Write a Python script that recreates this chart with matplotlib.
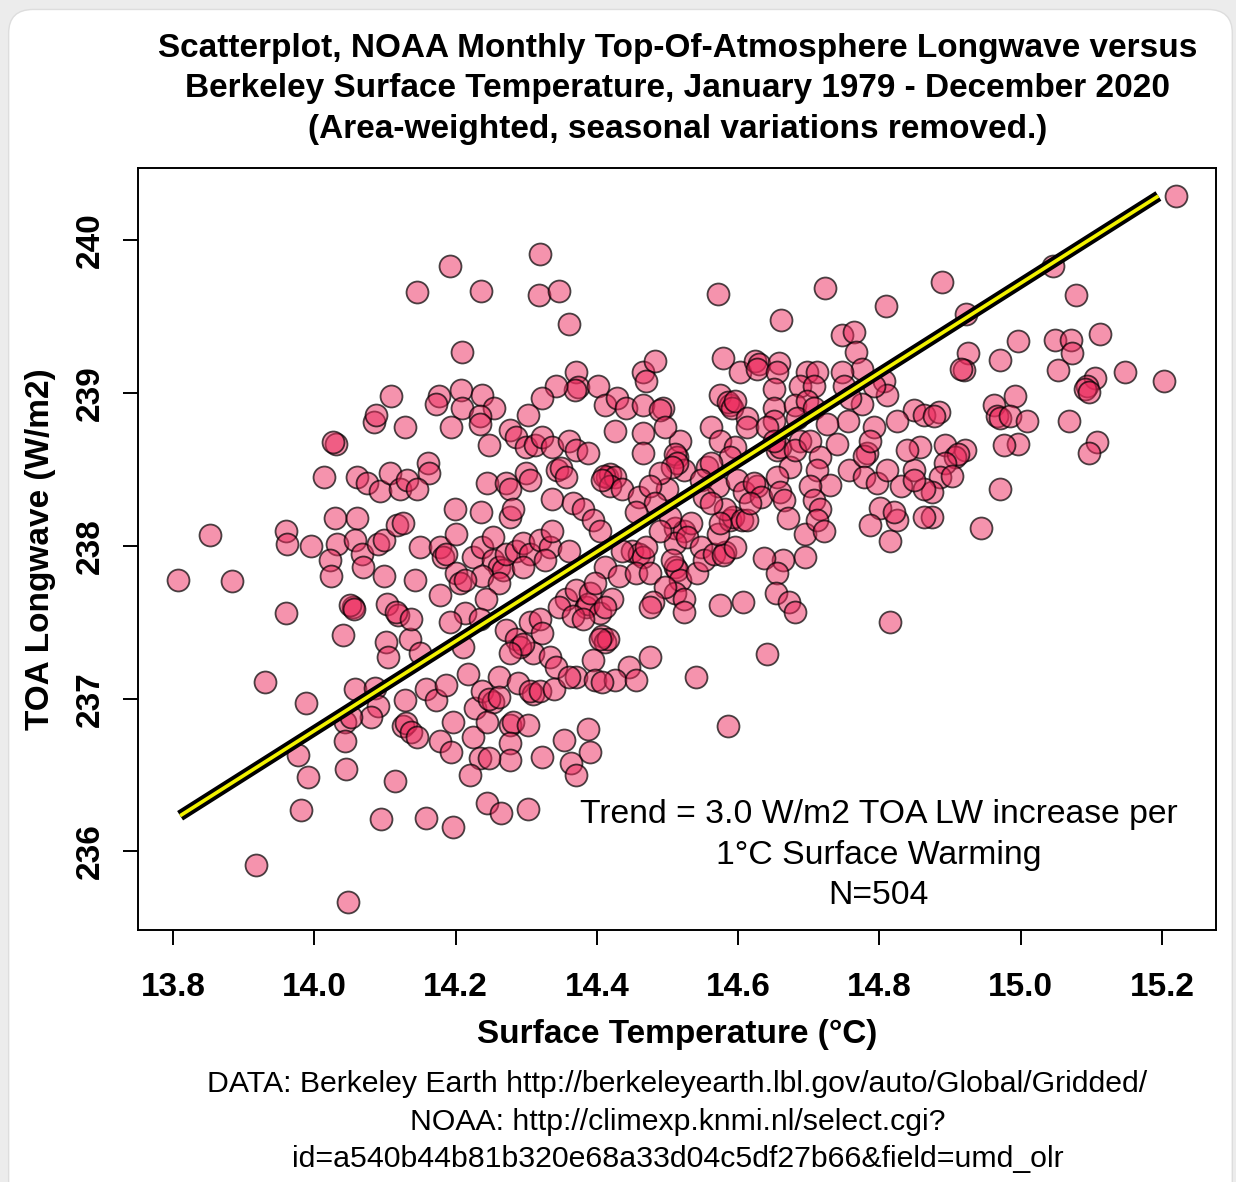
import numpy as np
import matplotlib
matplotlib.use('Agg')
import matplotlib.pyplot as plt
from matplotlib.patches import FancyBboxPatch

plt.rcParams['font.family'] = ['Liberation Sans', 'DejaVu Sans']

# monthly anomalies: (surface temp degC, TOA longwave W/m2)
obs = [
    # far left
    (13.807, 237.78), (13.852, 238.07), (13.883, 237.77), (13.960, 237.56), (13.930, 237.11),
    (13.917, 235.91), (13.960, 238.10), (13.961, 238.01), (13.995, 238.00), (14.014, 238.45),
    (14.031, 238.67), (14.026, 238.68), (14.029, 238.18), (14.060, 238.18), (14.032, 238.01),
    (14.022, 237.91), (14.023, 237.80), (14.057, 238.04), (14.067, 237.95), (14.069, 237.86),
    (14.098, 237.80), (14.090, 238.01), (14.098, 238.04), (14.117, 238.14), (14.060, 238.45),
    (14.074, 238.41), (14.093, 238.36), (14.107, 238.48), (14.121, 238.37), (14.131, 238.43),
    (14.055, 237.60), (14.050, 237.61), (14.056, 237.59), (14.040, 237.42), (14.103, 237.62),
    (14.118, 237.55), (14.115, 237.57), (14.101, 237.37), (14.104, 237.27), (14.135, 237.39),
    (14.084, 238.81), (14.128, 238.78), (14.142, 237.78), (14.108, 238.98), (14.087, 238.86),
    # upper 14.15 - 14.5
    (14.192, 239.83), (14.145, 239.66), (14.236, 239.67), (14.320, 239.91), (14.318, 239.64),
    (14.346, 239.67), (14.361, 239.45), (14.209, 239.27), (14.370, 239.14), (14.373, 239.04),
    (14.369, 239.02), (14.342, 239.05), (14.322, 238.97), (14.302, 238.86), (14.401, 239.05),
    (14.412, 238.92), (14.429, 238.97), (14.441, 238.90), (14.466, 238.92), (14.465, 239.14),
    (14.483, 239.21), (14.469, 239.08), (14.493, 238.90), (14.489, 238.89), (14.207, 239.02),
    (14.176, 238.98), (14.172, 238.93), (14.238, 238.99), (14.209, 238.90), (14.254, 238.90),
    (14.234, 238.85),
    # upper 14.55 - 14.9
    (14.571, 239.65), (14.661, 239.48), (14.723, 239.69), (14.810, 239.57), (14.889, 239.73),
    (14.747, 239.38), (14.764, 239.40), (14.767, 239.27), (14.776, 239.16), (14.747, 239.14),
    (14.750, 239.05), (14.807, 239.08), (14.811, 238.99), (14.793, 239.05), (14.776, 238.93),
    (14.759, 238.97), (14.755, 238.82), (14.579, 239.23), (14.602, 239.14), (14.624, 239.21),
    (14.630, 239.19), (14.627, 239.16), (14.658, 239.20), (14.655, 239.14), (14.651, 239.03),
    (14.698, 239.14), (14.712, 239.14), (14.688, 239.05), (14.708, 239.05), (14.575, 238.99),
    (14.588, 238.92), (14.585, 238.94), (14.592, 238.90), (14.595, 238.95), (14.613, 238.84),
    (14.651, 238.90), (14.651, 238.82), (14.680, 238.92), (14.698, 238.95), (14.684, 238.84),
    (14.708, 238.90), (14.561, 238.78), (14.849, 238.89), (14.863, 238.86), (14.825, 238.82),
    (14.793, 238.78),
    # upper right
    (15.220, 240.29), (15.046, 239.83), (15.078, 239.64), (14.923, 239.52), (14.996, 239.34),
    (15.049, 239.35), (15.071, 239.35), (15.073, 239.26), (15.112, 239.39), (14.926, 239.26),
    (14.920, 239.15), (14.916, 239.16), (14.971, 239.22), (15.053, 239.15), (15.105, 239.10),
    (15.094, 239.05), (15.091, 239.03), (15.097, 239.01), (15.148, 239.14), (15.203, 239.08),
    (14.885, 238.88), (14.878, 238.85), (14.962, 238.92), (14.992, 238.98), (14.967, 238.85),
    (14.971, 238.84), (14.985, 238.85), (15.009, 238.82), (15.068, 238.82),
    (14.996, 238.67), (14.976, 238.66), (15.108, 238.68), (15.097, 238.61), (14.893, 238.66),
    (14.921, 238.63), (14.907, 238.58), (14.911, 238.60), (14.893, 238.54), (14.886, 238.45),
    (14.903, 238.46), (14.875, 238.35), (14.875, 238.19), (14.971, 238.37), (14.944, 238.12),
    # middle 14.5 - 14.95
    (14.518, 238.69), (14.514, 238.58), (14.511, 238.60), (14.524, 238.50), (14.514, 238.54),
    (14.500, 238.37), (14.510, 238.12), (14.524, 238.10), (14.510, 238.02), (14.533, 238.15),
    (14.528, 238.06), (14.547, 237.99), (14.510, 237.86), (14.514, 237.84), (14.518, 237.78),
    (14.510, 237.69), (14.524, 237.65), (14.524, 237.57), (14.542, 237.82), (14.552, 237.91),
    (14.566, 237.95), (14.582, 237.96), (14.578, 237.94), (14.596, 237.99), (14.571, 238.08),
    (14.589, 238.17), (14.593, 238.19), (14.581, 238.24), (14.606, 238.17), (14.613, 238.17),
    (14.575, 238.15), (14.575, 238.69), (14.595, 238.65), (14.588, 238.58), (14.556, 238.52),
    (14.561, 238.54), (14.547, 238.43), (14.571, 238.39), (14.552, 238.32), (14.561, 238.28),
    (14.599, 238.43), (14.609, 238.35), (14.627, 238.39), (14.623, 238.41), (14.632, 238.32),
    (14.617, 238.28), (14.613, 238.78), (14.641, 238.78), (14.655, 238.63), (14.659, 238.65),
    (14.651, 238.69), (14.674, 238.52), (14.655, 238.45), (14.660, 238.35), (14.665, 238.30),
    (14.670, 238.18), (14.694, 238.08), (14.694, 237.93), (14.663, 237.91), (14.637, 237.92),
    (14.655, 237.82), (14.653, 237.69), (14.672, 237.63), (14.681, 237.57), (14.575, 237.61),
    (14.607, 237.63), (14.641, 237.29), (14.540, 237.14), (14.815, 237.50), (14.688, 238.69),
    (14.680, 238.63), (14.702, 238.69), (14.716, 238.58), (14.712, 238.50), (14.730, 238.40),
    (14.702, 238.39), (14.708, 238.30), (14.716, 238.24), (14.712, 238.17), (14.722, 238.10),
    (14.726, 238.80), (14.740, 238.67), (14.757, 238.50), (14.783, 238.61), (14.778, 238.59),
    (14.787, 238.69), (14.778, 238.45), (14.797, 238.41), (14.811, 238.50), (14.801, 238.25),
    (14.787, 238.14), (14.815, 238.03), (14.825, 238.17), (14.821, 238.22), (14.830, 238.39),
    (14.849, 238.50), (14.863, 238.37), (14.849, 238.43), (14.863, 238.19), (14.858, 238.65),
    (14.839, 238.63), (14.586, 236.82),
    # centre 14.15 - 14.5
    (14.193, 238.78), (14.234, 238.80), (14.248, 238.66), (14.277, 238.76), (14.285, 238.71),
    (14.299, 238.65), (14.313, 238.66), (14.323, 238.71), (14.337, 238.65), (14.361, 238.69),
    (14.370, 238.63), (14.387, 238.61), (14.426, 238.75), (14.465, 238.74), (14.465, 238.61),
    (14.497, 238.78), (14.507, 238.52), (14.489, 238.48), (14.161, 238.54), (14.163, 238.48),
    (14.146, 238.37), (14.125, 238.15), (14.199, 238.24), (14.236, 238.22), (14.245, 238.41),
    (14.271, 238.41), (14.277, 238.37), (14.277, 238.19), (14.281, 238.24), (14.299, 238.48),
    (14.305, 238.43), (14.344, 238.50), (14.349, 238.51), (14.356, 238.45), (14.337, 238.31),
    (14.366, 238.28), (14.380, 238.24), (14.394, 238.17), (14.404, 238.10), (14.415, 238.45),
    (14.419, 238.47), (14.410, 238.46), (14.426, 238.45), (14.418, 238.39), (14.408, 238.43),
    (14.436, 238.37), (14.460, 238.32), (14.475, 238.39), (14.483, 238.28), (14.503, 238.19),
    (14.489, 238.10), (14.455, 238.22), (14.450, 237.97), (14.460, 237.95), (14.465, 237.93),
    (14.469, 237.99), (14.436, 237.97), (14.412, 237.86), (14.432, 237.80), (14.455, 237.82),
    (14.475, 237.82), (14.507, 237.91), (14.497, 237.73), (14.479, 237.63), (14.149, 237.99),
    (14.178, 237.99), (14.182, 237.93), (14.186, 237.95), (14.200, 238.08), (14.200, 237.82),
    (14.206, 237.76), (14.224, 237.93), (14.238, 237.99), (14.253, 238.06), (14.253, 237.91),
    (14.262, 237.86), (14.267, 237.84), (14.271, 237.95), (14.285, 237.97), (14.295, 238.02),
    (14.305, 237.95), (14.319, 238.04), (14.333, 237.99), (14.337, 238.10), (14.361, 237.97),
    (14.327, 237.91), (14.295, 237.86), (14.238, 237.80), (14.262, 237.76), (14.178, 237.68),
    (14.214, 237.78), (14.243, 237.65), (14.214, 237.56), (14.137, 237.52), (14.192, 237.50),
    (14.234, 237.52), (14.271, 237.45), (14.285, 237.39), (14.305, 237.50), (14.319, 237.52),
    (14.323, 237.43), (14.309, 237.30), (14.291, 237.34), (14.295, 237.36), (14.277, 237.30),
    (14.333, 237.27), (14.356, 237.65), (14.347, 237.60), (14.370, 237.71), (14.384, 237.60),
    (14.388, 237.62), (14.404, 237.56), (14.390, 237.69), (14.398, 237.76), (14.422, 237.65),
    (14.412, 237.60), (14.366, 237.54), (14.380, 237.52), (14.408, 237.41), (14.412, 237.37),
    (14.416, 237.39), (14.404, 237.39), (14.394, 237.25), (14.149, 237.30), (14.210, 237.34),
    (14.262, 237.14), (14.342, 237.21), (14.370, 237.14), (14.446, 237.21), (14.475, 237.27),
    (14.475, 237.60),
    # lower left
    (13.988, 236.97), (14.057, 237.06), (14.086, 237.07), (14.090, 236.95), (14.080, 236.88),
    (14.043, 236.85), (14.052, 236.88), (14.128, 236.99), (14.125, 236.82), (14.130, 236.84),
    (14.137, 236.78), (14.043, 236.72), (13.977, 236.63), (13.991, 236.49), (14.045, 236.54),
    (14.114, 236.46), (13.981, 236.27), (14.094, 236.21), (14.047, 235.67),
    # lower middle
    (14.158, 237.06), (14.172, 236.99), (14.186, 237.09), (14.217, 237.16), (14.196, 236.85),
    (14.146, 236.75), (14.178, 236.72), (14.193, 236.65), (14.224, 236.75), (14.228, 236.94),
    (14.238, 237.05), (14.253, 236.98), (14.248, 237.00), (14.262, 237.01), (14.245, 236.85),
    (14.277, 236.83), (14.281, 236.85), (14.277, 236.71), (14.277, 236.60), (14.302, 236.83),
    (14.234, 236.61), (14.248, 236.61), (14.221, 236.50), (14.288, 237.10), (14.309, 237.03),
    (14.305, 237.05), (14.319, 237.05), (14.340, 237.06), (14.361, 237.14), (14.323, 236.62),
    (14.354, 236.73), (14.387, 236.80), (14.391, 236.65), (14.363, 236.58), (14.370, 236.50),
    (14.398, 237.12), (14.426, 237.12), (14.455, 237.12), (14.408, 237.11), (14.245, 236.32),
    (14.264, 236.25), (14.302, 236.28), (14.158, 236.22), (14.197, 236.16),
]
n_months = 504
x_ticks = [13.8, 14.0, 14.2, 14.4, 14.6, 14.8, 15.0, 15.2]
y_ticks = [236, 237, 238, 239, 240]

# trend line as drawn on the chart
trend_slope = 2.93       # W/m2 per degC
trend_at_14 = 236.79     # W/m2 at 14.0 degC
trend_x = [13.81, 15.195]

temp, lw = np.array(obs).T

fig = plt.figure(figsize=(12.36, 11.82), dpi=100, facecolor='#ececec')
# white card like the screenshot
card = FancyBboxPatch((0.007, -0.05), 0.99, 1.042, boxstyle='round,pad=0,rounding_size=0.02',
                      transform=fig.transFigure, facecolor='white', edgecolor='#dddddd', lw=1,
                      zorder=-10)
fig.patches.append(card)

ax = fig.add_axes([0.1117, 0.2132, 0.8721, 0.6447])
ax.patch.set_alpha(0)
ax.scatter(temp, lw, s=250, facecolor=(0.93, 0.16, 0.36, 0.5),
           edgecolor=(0, 0, 0, 0.7), linewidth=1.3, zorder=2)

xx = np.array(trend_x)
yy = trend_at_14 + trend_slope * (xx - 14.0)
ax.plot(xx, yy, color='black', lw=8, solid_capstyle='butt', zorder=3)
ax.plot(xx, yy, color='#f2f200', lw=2.6, solid_capstyle='butt', zorder=4)

# R style 4% padding
xr = temp.max() - temp.min()
yr = lw.max() - lw.min()
ax.set_xlim(temp.min() - 0.04 * xr, temp.max() + 0.04 * xr)
ax.set_ylim(lw.min() - 0.04 * yr, lw.max() + 0.04 * yr)

ax.set_xticks(x_ticks)
ax.set_xticklabels([f'{v:.1f}' for v in x_ticks], fontsize=24, fontweight='bold')
ax.set_yticks(y_ticks)
ax.set_yticklabels([str(v) for v in y_ticks], fontsize=24, fontweight='bold',
                   rotation=90, va='center')
ax.tick_params(length=11, width=1.4)
ax.tick_params(axis='x', pad=19)
ax.tick_params(axis='y', pad=12)
for sp in ax.spines.values():
    sp.set_linewidth(1.4)

ax.set_xlabel('Surface Temperature (°C)', fontsize=24, fontweight='bold', labelpad=12)
ax.set_ylabel('TOA Longwave (W/m2)', fontsize=24, fontweight='bold', labelpad=14)

ax.text(0.687, 0.098, 'Trend = 3.0 W/m2 TOA LW increase per\n1°C Surface Warming\nN=%d' % n_months,
        transform=ax.transAxes, ha='center', va='center', fontsize=24.3, linespacing=1.4)

fig.text(0.548, 0.925,
         'Scatterplot, NOAA Monthly Top-Of-Atmosphere Longwave versus\n'
         'Berkeley Surface Temperature, January 1979 - December 2020\n'
         '(Area-weighted, seasonal variations removed.)',
         ha='center', va='center', fontsize=24, fontweight='bold', linespacing=1.4)

fig.text(0.548, 0.0508,
         'DATA: Berkeley Earth http://berkeleyearth.lbl.gov/auto/Global/Gridded/\n'
         'NOAA: http://climexp.knmi.nl/select.cgi?\n'
         'id=a540b44b81b320e68a33d04c5df27b66&field=umd_olr',
         ha='center', va='center', fontsize=21.8, linespacing=1.43)

fig.savefig('out.png', dpi=100, facecolor=fig.get_facecolor())
